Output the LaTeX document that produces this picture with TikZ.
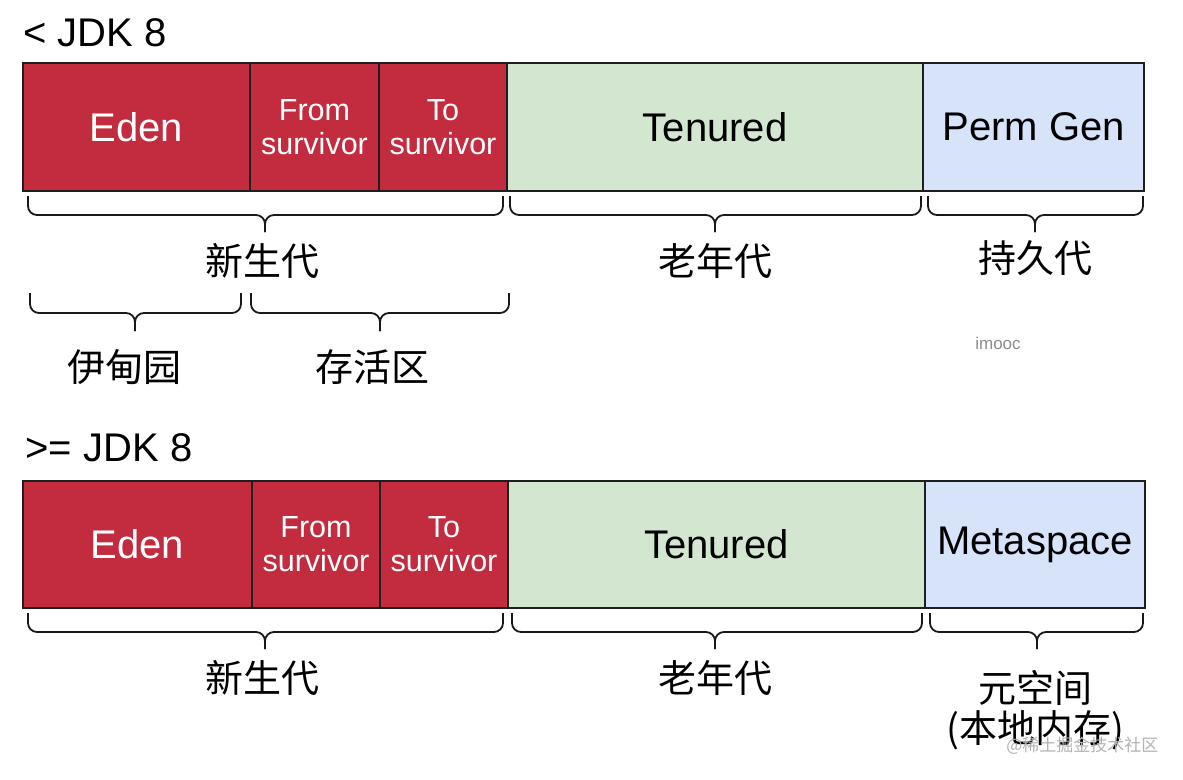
\documentclass[tikz,border=0pt]{standalone}
\usepackage{fontspec}
\setmainfont{Liberation Sans}
\newfontfamily\cjk{Noto Sans CJK SC}
\definecolor{edenred}{RGB}{194,44,62}
\definecolor{tengreen}{RGB}{211,230,208}
\definecolor{permblue}{RGB}{214,227,249}
\definecolor{edgegray}{RGB}{30,30,30}
\tikzset{
  cell/.style={draw=edgegray, line width=1.6pt, inner sep=0pt, outer sep=0pt, anchor=north west, align=center},
  redcell/.style={cell, fill=edenred, text=white},
  greencell/.style={cell, fill=tengreen, text=black},
  bluecell/.style={cell, fill=permblue, text=black},
  bigtxt/.style={font=\fontsize{40}{44}\selectfont},
  twotxt/.style={font=\fontsize{30.5}{34}\selectfont},
  cnlabel/.style={font=\cjk\fontsize{38}{42}\selectfont, align=center},
  heading/.style={font=\fontsize{40}{44}\selectfont, anchor=west},
  bracepath/.style={draw=black!90, line width=1.8pt, rounded corners=9pt}
}
\newcommand{\mybrace}[6]{% x1 x2 xm y0 y1 ytip
  \draw[bracepath] (#1,#4) -- (#1,#5) -- (#3,#5) -- (#3,#6);
  \draw[bracepath] (#2,#4) -- (#2,#5) -- (#3,#5) -- (#3,#6);
}
\begin{document}
\begin{tikzpicture}[x=1pt,y=-1pt]
\useasboundingbox[fill=white] (0,0) rectangle (1183,779);

% ---------- < JDK 8 ----------
\node[heading] (h1) at (20,33) {< JDK 8};
\node[redcell, bigtxt, minimum width=227pt, minimum height=128pt] (eden1) at (23,63) {Eden};
\node[redcell, twotxt, minimum width=129pt, minimum height=128pt] (from1) at (250,63) {From\\survivor};
\node[redcell, twotxt, minimum width=128pt, minimum height=128pt] (to1) at (379,63) {To\\survivor};
\node[greencell, bigtxt, minimum width=416pt, minimum height=128pt] (ten1) at (507,63) {Tenured};
\node[bluecell, bigtxt, minimum width=221pt, minimum height=128pt] (perm1) at (923,63) {Perm Gen};

\mybrace{28}{503}{265}{196}{215}{232}
\mybrace{510}{921}{715}{196}{215}{232}
\mybrace{928}{1143}{1035}{196}{215}{232}
\node[cnlabel] (young1) at (262,261) {新生代};
\node[cnlabel] (old1) at (715,261) {老年代};
\node[cnlabel] (permlbl) at (1035,258) {持久代};

\mybrace{30}{241}{135}{293}{313}{331}
\mybrace{251}{509}{380}{293}{313}{331}
\node[cnlabel] (edenlbl) at (124,367) {伊甸园};
\node[cnlabel] (survlbl) at (372,367) {存活区};

\node[font=\fontsize{17}{20}\selectfont, text=black!45] (imooc) at (998,343) {imooc};

% ---------- >= JDK 8 ----------
\node[heading] (h2) at (22,448) {>= JDK 8};
\node[redcell, bigtxt, minimum width=229pt, minimum height=127pt] (eden2) at (23,481) {Eden};
\node[redcell, twotxt, minimum width=128pt, minimum height=127pt] (from2) at (252,481) {From\\survivor};
\node[redcell, twotxt, minimum width=128pt, minimum height=127pt] (to2) at (380,481) {To\\survivor};
\node[greencell, bigtxt, minimum width=417pt, minimum height=127pt] (ten2) at (508,481) {Tenured};
\node[bluecell, bigtxt, minimum width=220pt, minimum height=127pt] (meta2) at (925,481) {Metaspace};

\mybrace{28}{503}{265}{613}{632}{649}
\mybrace{512}{922}{715}{613}{632}{649}
\mybrace{930}{1143}{1037}{613}{632}{649}
\node[cnlabel] (young2) at (262,678) {新生代};
\node[cnlabel] (old2) at (715,678) {老年代};
\node[cnlabel] (metalbl) at (1035,688) {元空间};
\node[cnlabel] (native) at (1035,730) {(本地内存)};

\node[font=\cjk\fontsize{17}{20}\selectfont, text=black!30, anchor=east] (wm) at (1162,746) {@稀土掘金技术社区};
\end{tikzpicture}
\end{document}
